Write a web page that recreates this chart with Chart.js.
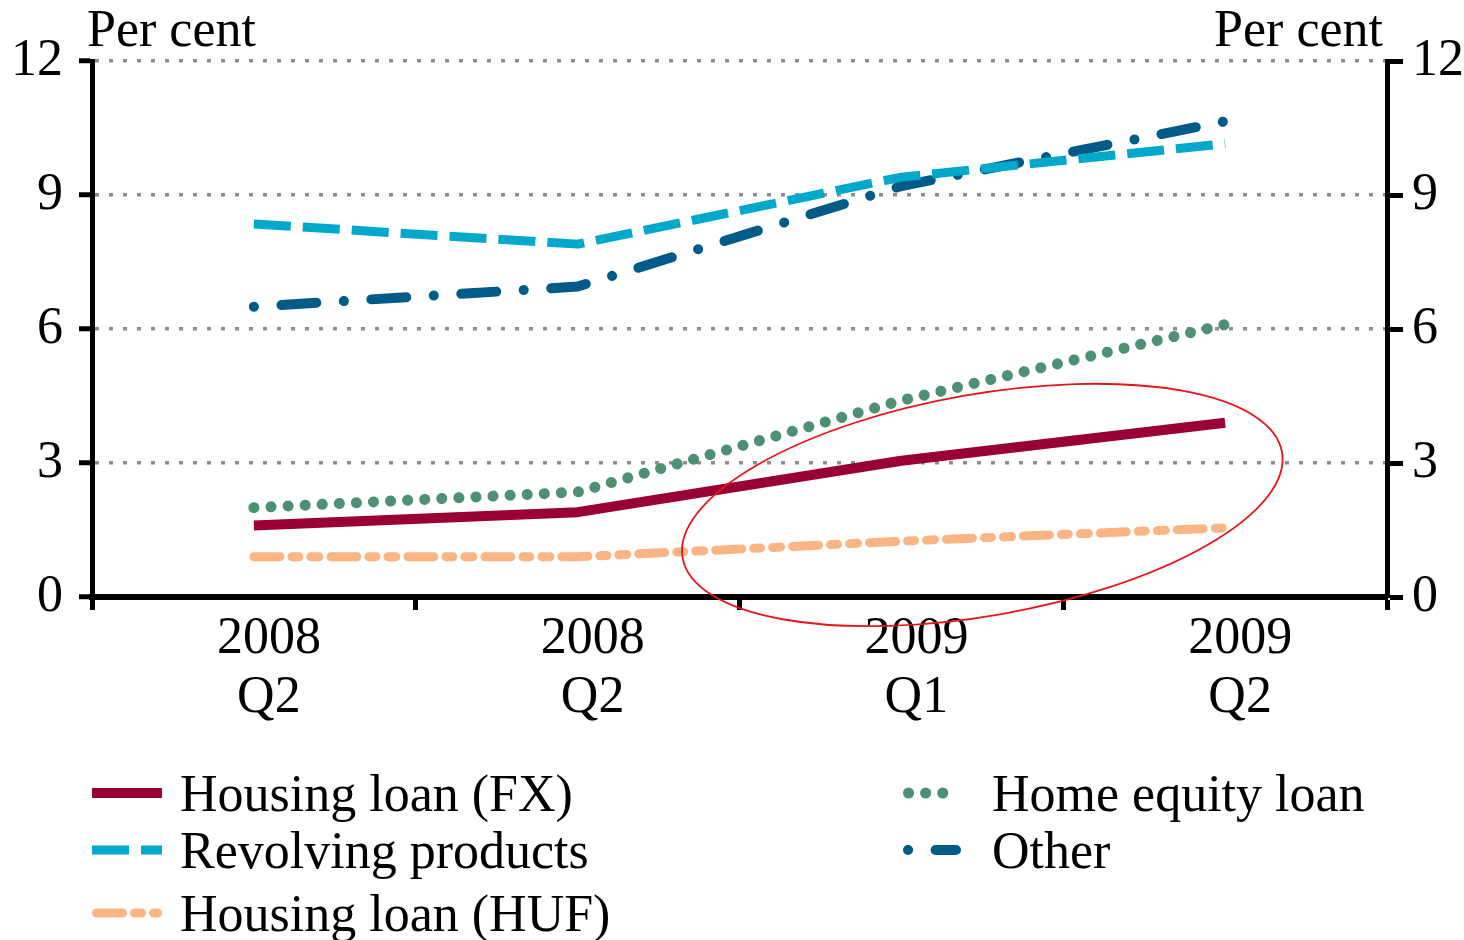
<!DOCTYPE html>
<html>
<head>
<meta charset="utf-8">
<script src="https://cdn.jsdelivr.net/npm/chart.js@4/dist/chart.umd.min.js"></script>
<style>
  body { margin: 0; background: #fff; }
  #wrap { position: relative; width: 1464px; height: 940px; font-family: "Liberation Serif", "DejaVu Serif", serif; }
  #chart { position: absolute; left: 0; top: 0; }
  .leg { position: absolute; display: flex; align-items: center; font-size: 52px; color: #000; white-space: nowrap; }
</style>
</head>
<body>
<div id="wrap">
  <canvas id="chart" width="1464" height="940"></canvas>
</div>
<script>
// --- DONNÉES ---
const categories = [['2008', 'Q2'], ['2008', 'Q2'], ['2009', 'Q1'], ['2009', 'Q2']];
const yTicks = [0, 3, 6, 9, 12];

const housingFX = [1.6, 1.9, 3.05, 3.9];
const revolving = [8.35, 7.9, 9.4, 10.15];
const housingHUF = [0.9, 0.9, 1.25, 1.55];
const homeEquity = [2.0, 2.35, 4.4, 6.1];
const other = [6.5, 6.95, 9.2, 10.65];

// Ellipse (annotation rouge) : centre en unités de données
const ellipse = { cx: 2.25, cy: 2.06, a: 0.94, b: 2.48, rot: -10 };

// --- SÉRIES ---
const series = [
    { label: 'Housing loan (FX)', data: housingFX, color: '#990033', dash: [], cap: 'butt', width: 10, col: 0 },
    { label: 'Revolving products', data: revolving, color: '#00a8cc', dash: [37, 12], cap: 'butt', width: 9, col: 0 },
    { label: 'Housing loan (HUF)', data: housingHUF, color: '#fbb584', dash: [26, 12, 7, 12, 8, 12], cap: 'round', width: 9, col: 0 },
    { label: 'Home equity loan', data: homeEquity, color: '#4d9073', dash: [0.1, 17], cap: 'round', width: 11, col: 1 },
    { label: 'Other', data: other, color: '#005b88', dash: [0.1, 27.5, 35, 27.5], cap: 'round', width: 10, col: 1 }
];

const FONT = '"Liberation Serif", "DejaVu Serif", serif';

// Titres "Per cent" au-dessus des axes
const titlesPlugin = {
    id: 'titles',
    afterDraw(chart) {
        const { ctx, chartArea } = chart;
        ctx.save();
        ctx.font = '52px ' + FONT;
        ctx.fillStyle = '#000';
        ctx.textBaseline = 'alphabetic';
        ctx.textAlign = 'left';
        ctx.fillText('Per cent', chartArea.left - 5, chartArea.top - 15);
        ctx.textAlign = 'right';
        ctx.fillText('Per cent', chartArea.right - 4, chartArea.top - 15);
        ctx.restore();
    }
};

// Ellipse rouge
const ellipsePlugin = {
    id: 'ellipse',
    afterDatasetsDraw(chart) {
        const { ctx, scales } = chart;
        const x = scales.x, y = scales.y;
        const cx = x.getPixelForValue(ellipse.cx);
        const cy = y.getPixelForValue(ellipse.cy);
        const rx = Math.abs(x.getPixelForValue(ellipse.cx + ellipse.a) - cx);
        const ry = Math.abs(y.getPixelForValue(ellipse.cy + ellipse.b) - cy);
        ctx.save();
        ctx.strokeStyle = '#e8141b';
        ctx.lineWidth = 1.8;
        ctx.beginPath();
        ctx.ellipse(cx, cy, rx, ry, ellipse.rot * Math.PI / 180, 0, Math.PI * 2);
        ctx.stroke();
        ctx.restore();
    }
};

new Chart(document.getElementById('chart'), {
    type: 'line',
    data: {
        labels: categories,
        datasets: series.map(s => ({
            label: s.label,
            data: s.data,
            borderColor: s.color,
            backgroundColor: s.color,
            borderWidth: s.width,
            borderDash: s.dash,
            borderCapStyle: s.cap,
            borderJoinStyle: 'round',
            pointRadius: 0,
            tension: 0,
            fill: false
        }))
    },
    options: {
        responsive: false,
        devicePixelRatio: 1,
        animation: false,
        layout: { padding: { top: 61, left: 0, right: 0, bottom: 0 } },
        plugins: {
            legend: { display: false },
            tooltip: { enabled: false }
        },
        scales: {
            x: {
                offset: true,
                afterFit(s) { s.height = 343; },
                grid: { offset: true, drawOnChartArea: false, tickLength: 13, tickWidth: 5, tickColor: '#000' },
                border: { color: '#000', width: 6 },
                ticks: { color: '#000', padding: -1, labelOffset: 15, maxRotation: 0, font: { family: FONT, size: 52, lineHeight: 1.15 } }
            },
            y: {
                position: 'left',
                min: 0, max: 12,
                afterFit(s) { s.width = 92; },
                afterBuildTicks(s) { s.ticks = yTicks.map(v => ({ value: v })); },
                grid: { color: '#8e8e8e', lineWidth: 3.5, tickLength: 13, tickWidth: 5, tickColor: '#000' },
                border: { color: '#000', width: 5, dash: [4, 10] },
                ticks: { color: '#000', padding: 16, font: { family: FONT, size: 52 } }
            },
            y2: {
                position: 'right',
                min: 0, max: 12,
                afterFit(s) { s.width = 77; },
                afterBuildTicks(s) { s.ticks = yTicks.map(v => ({ value: v })); },
                grid: { drawOnChartArea: false, tickLength: 16, tickWidth: 5, tickColor: '#000' },
                border: { color: '#000', width: 5 },
                ticks: { color: '#000', padding: 9, font: { family: FONT, size: 52 } }
            }
        }
    },
    plugins: [titlesPlugin, ellipsePlugin]
});

// --- LÉGENDE (HTML) ---
const wrap = document.getElementById('wrap');
const legendCols = [
    { sampleX: 92, sampleW: 70, gap: 18, rows: [793, 850, 913] },
    { sampleX: 903, sampleW: 58, gap: 31, rows: [793, 850] }
];
const colCount = [0, 0];
series.forEach(s => {
    const col = legendCols[s.col];
    const rowY = col.rows[colCount[s.col]++];
    const div = document.createElement('div');
    div.className = 'leg';
    div.style.left = col.sampleX + 'px';
    div.style.top = (rowY - 32) + 'px';
    div.style.height = '64px';
    const w = col.sampleW;
    const dash = s.dash.length ? s.dash.join(' ') : 'none';
    const pad = s.cap === 'round' ? s.width / 2 : 0;
    div.innerHTML =
        '<svg width="' + w + '" height="20" style="margin-right:' + col.gap + 'px"><line x1="' + pad + '" y1="10" x2="' + (w - pad) +
        '" y2="10" stroke="' + s.color + '" stroke-width="' + s.width + '" stroke-dasharray="' + dash +
        '" stroke-linecap="' + s.cap + '"/></svg>' +
        '<span>' + s.label + '</span>';
    wrap.appendChild(div);
});
</script>
</body>
</html>
